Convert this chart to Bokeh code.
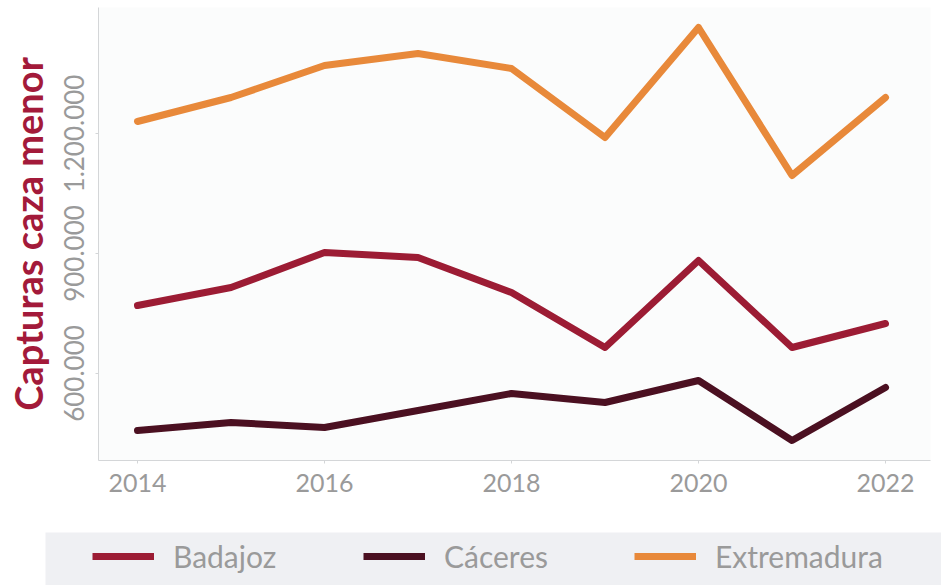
from bokeh.plotting import figure
from bokeh.models import FixedTicker, Legend, LegendItem, Range1d
from bokeh.layouts import column
from bokeh.embed import file_html
from bokeh.resources import INLINE

years = [2014, 2015, 2016, 2017, 2018, 2019, 2020, 2021, 2022]
badajoz = [770000, 815000, 902500, 890000, 802500, 665000, 882500, 665000, 725000]
caceres = [457500, 477500, 465000, 507500, 550000, 527500, 582500, 432500, 565000]
extremadura = [1230000, 1290000, 1370000, 1400000, 1362500, 1190000, 1465000, 1095000, 1290000]

series_names = ["Badajoz", "Cáceres", "Extremadura"]
series_colors = ["#9c1c34", "#4b1021", "#e8893a"]

x_ticks = [2014, 2016, 2018, 2020, 2022]
y_ticks = [600000, 900000, 1200000]
y_tick_labels = ["600.000", "900.000", "1.200.000"]

FONT = "Lato"

p = figure(width=941, height=532, output_backend="svg", toolbar_location=None,
           x_range=Range1d(2013.583, 2022.481), y_range=Range1d(382500, 1515000),
           min_border_left=98, min_border_right=11, min_border_top=7, min_border_bottom=72)
p.frame_align = False
p.background_fill_color = "#fbfcfc"
p.border_fill_color = "white"
p.outline_line_color = None
p.xgrid.visible = False
p.ygrid.visible = False

for vals, col in zip([badajoz, caceres, extremadura], series_colors):
    p.line(years, vals, line_color=col, line_width=7, line_join="round", line_cap="round")

xa = p.xaxis[0]
xa.ticker = FixedTicker(ticks=x_ticks)
xa.axis_line_color = "#d4d6d8"
xa.major_tick_line_color = "#d4d6d8"
xa.major_tick_out = 3
xa.major_tick_in = 0
xa.minor_tick_line_color = None
xa.major_label_text_font = FONT
xa.major_label_text_font_size = "25px"
xa.major_label_text_color = "#9a9a9a"
xa.major_label_standoff = 10

ya = p.yaxis[0]
ya.ticker = FixedTicker(ticks=y_ticks)
ya.major_label_overrides = {t: l for t, l in zip(y_ticks, y_tick_labels)}
ya.major_label_orientation = "vertical"
ya.axis_line_color = "#d4d6d8"
ya.major_tick_line_color = "#d4d6d8"
ya.major_tick_out = 3
ya.major_tick_in = 0
ya.minor_tick_line_color = None
ya.major_label_text_font = FONT
ya.major_label_text_font_size = "26px"
ya.major_label_text_color = "#9a9a9a"
ya.major_label_standoff = 12
ya.axis_label = "Capturas caza menor"
ya.axis_label_text_font = FONT
ya.axis_label_text_font_style = "bold"
ya.axis_label_text_font_size = "38px"
ya.axis_label_text_color = "#a31a3a"
ya.axis_label_standoff = 10

# grey legend strip below the chart
lg = figure(width=941, height=53, output_backend="svg", toolbar_location=None,
            x_range=Range1d(0, 1), y_range=Range1d(0, 1),
            min_border_left=45, min_border_right=0, min_border_top=0, min_border_bottom=0)
lg.frame_align = False
lg.axis.visible = False
lg.xgrid.visible = False
lg.ygrid.visible = False
lg.outline_line_color = None
lg.background_fill_color = "#eff0f3"
lg.border_fill_color = "white"

items = []
for name, col in zip(series_names, series_colors):
    r = lg.line([float("nan")], [float("nan")], line_color=col, line_width=7)
    items.append(LegendItem(label=name, renderers=[r]))

legend = Legend(items=items, orientation="horizontal", location=(47, 11),
                background_fill_alpha=0, border_line_color=None,
                padding=0, margin=0, spacing=0,
                glyph_width=62, glyph_height=30, label_standoff=19,
                label_width=190, label_height=30,
                label_text_font=FONT, label_text_font_size="30px",
                label_text_color="#9a9a9a")
lg.add_layout(legend, "center")

layout = column(p, lg, spacing=0)
open("out.html", "w").write(file_html(layout, INLINE))
